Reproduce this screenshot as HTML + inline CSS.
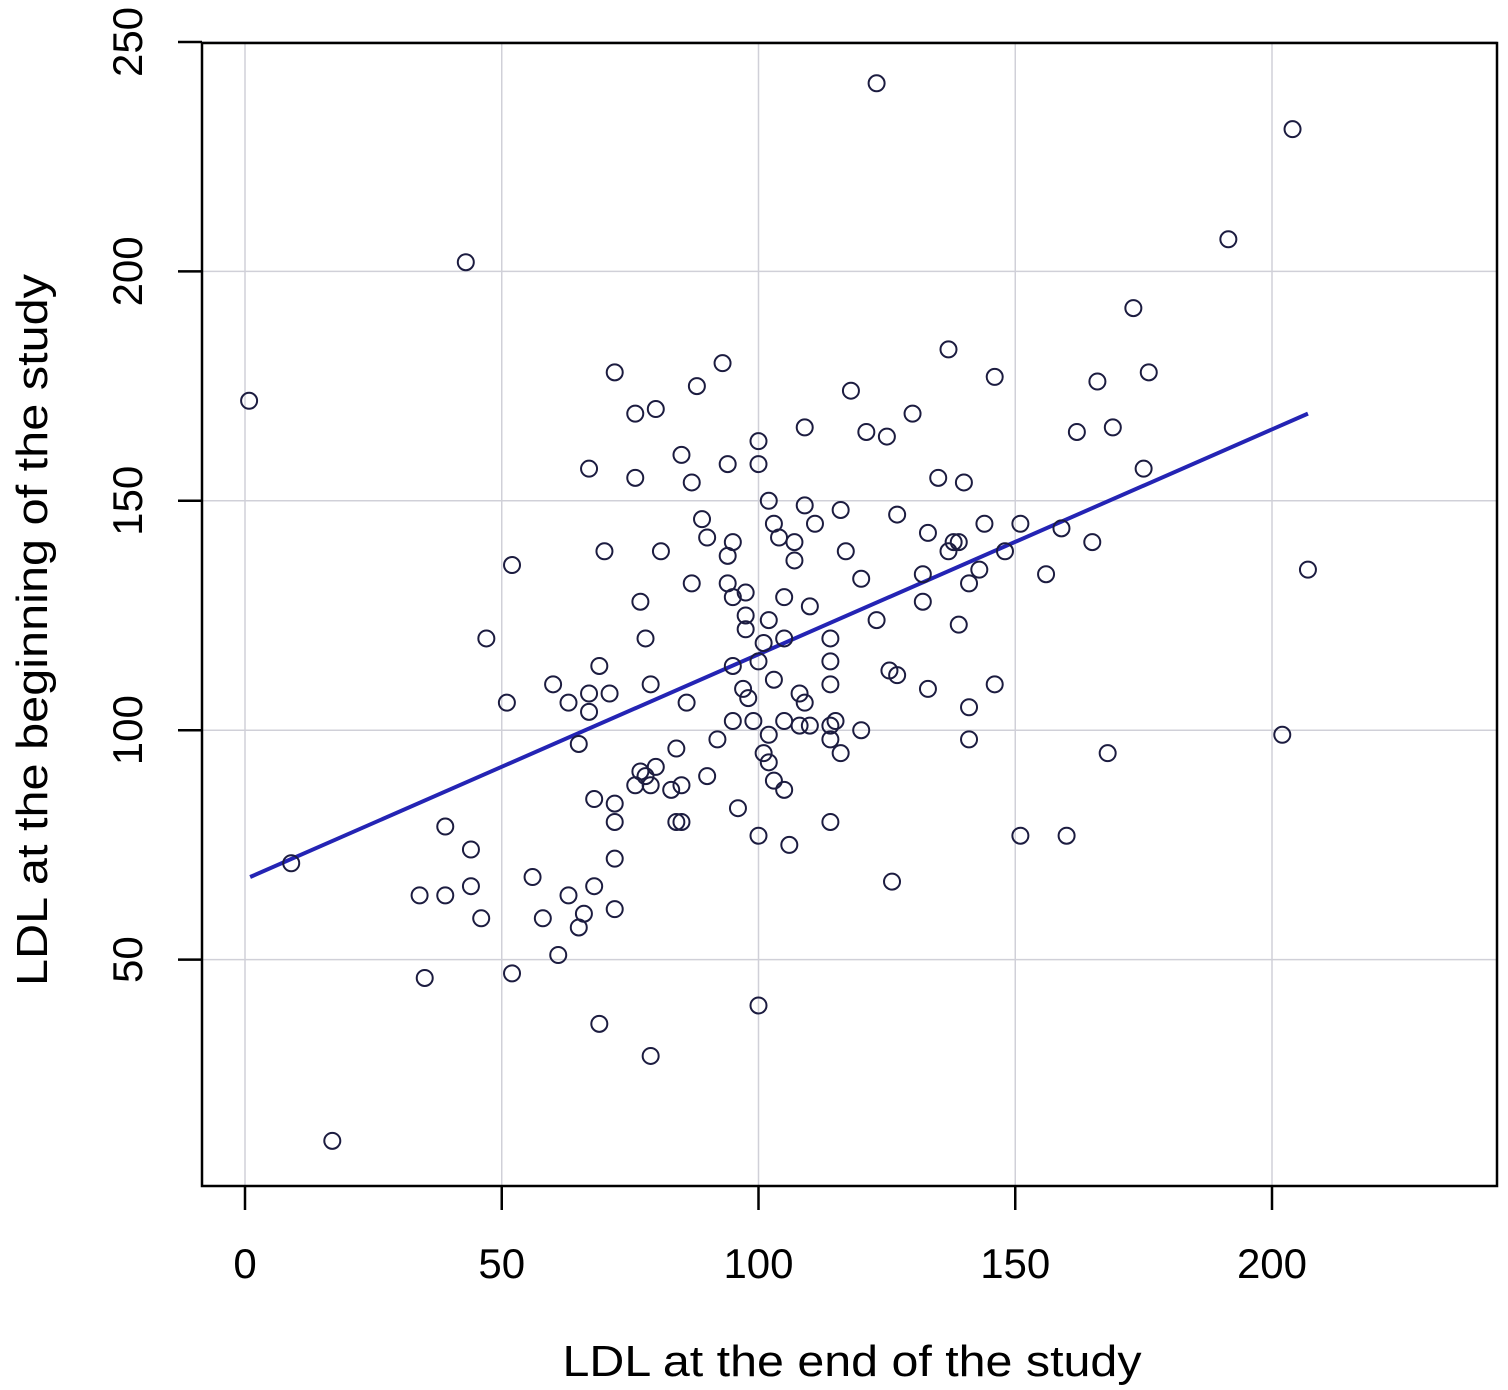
<!DOCTYPE html>
<html><head><meta charset="utf-8"><style>
html,body{margin:0;padding:0;background:#fff;}
svg{display:block;font-family:"Liberation Sans",Arial,sans-serif;}
</style></head><body>
<svg id="chart" width="1508" height="1390" viewBox="0 0 1508 1390" xmlns="http://www.w3.org/2000/svg">
<g id="grid"></g>
<g id="line"></g>
<g id="pts"></g>
<rect x="202" y="43" width="1295" height="1143" fill="none" stroke="#000" stroke-width="2.5"/>
<g id="axes"></g>
<text x="852" y="1376" font-size="44" text-anchor="middle" textLength="579" lengthAdjust="spacingAndGlyphs">LDL at the end of the study</text>
<text transform="translate(47,630) rotate(-90)" font-size="44" text-anchor="middle" textLength="712" lengthAdjust="spacingAndGlyphs">LDL at the beginning of the study</text>
</svg>
<script>
const xTicks=[0,50,100,150,200];
const yTicks=[50,100,150,200,250];
const xVals=[0.8,9,17,34,35,39,39,43,44,44,46,47,51,52,52,56,58,60,61,63,63,65,65,66,67,67,67,68,68,69,69,70,71,72,72,72,72,72,76,76,76,77,77,78,78,79,79,79,80,80,81,83,84,84,85,85,85,86,87,87,88,89,90,90,92,93,94,94,94,95,95,95,95,96,97,97.5,97.5,97.5,98,99,100,100,100,100,100,101,101,102,102,102,102,103,103,103,104,105,105,105,105,106,107,107,108,108,109,109,109,110,110,111,114,114,114,114,114,114,115,116,116,117,118,120,120,121,123,123,125,125.5,127,126,127,130,132,132,133,133,135,137,137,138,139,139,140,141,141,141,143,144,146,146,148,151,151,156,159,160,162,165,166,168,169,173,175,176,191.5,202,204,207];
const yVals=[171.8,71,10.5,64,46,79,64,202,74,66,59,120,106,136,47,68,59,110,51,106,64,57,97,60,157,108,104,85,66,36,114,139,108,178,84,80,72,61,169,155,88,128,91,90,120,110,88,29,170,92,139,87,80,96,160,80,88,106,154,132,175,146,142,90,98,180,158,138,132,129,141,102,114,83,109,130,122,125,107,102,163,158,115,77,40,119,95,150,124,99,93,145,111,89,142,129,120,102,87,75,141,137,108,101,166,149,106,127,101,145,120,115,110,101,98,80,102,148,95,139,174,133,100,165,241,124,164,113,112,67,147,169,134,128,143,109,155,183,139,141,141,123,154,132,105,98,135,145,177,110,139,145,77,134,144,77,165,141,176,95,166,192,157,178,207,99,231,135];
const fitX=[1,207];
const fitY=[68,169];
const NS='http://www.w3.org/2000/svg';
const X=v=>245+v*5.135;
const Y=v=>1189-v*4.588;
function mk(tag,attrs,parent){const e=document.createElementNS(NS,tag);for(const k in attrs)e.setAttribute(k,attrs[k]);parent.appendChild(e);return e;}
const grid=document.getElementById('grid'),axes=document.getElementById('axes'),pts=document.getElementById('pts'),lg=document.getElementById('line');
xTicks.forEach(t=>{
  const g=mk('line',{x1:X(t),x2:X(t),y1:43,y2:1186,stroke:'#d0d0d8','stroke-width':1.5},grid);
  
  
  const tk=mk('line',{x1:X(t),x2:X(t),y1:1186,y2:1210,stroke:'#000','stroke-width':2.5},axes);
  
  
  const tx=mk('text',{x:X(t),y:1278,'font-size':42,'text-anchor':'middle'},axes);
  tx.textContent=t;
  
  
});
yTicks.forEach(t=>{
  const g=mk('line',{x1:202,x2:1497,y1:Y(t),y2:Y(t),stroke:'#d0d0d8','stroke-width':1.5},grid);
  
  
  const tk=mk('line',{x1:178,x2:202,y1:Y(t),y2:Y(t),stroke:'#000','stroke-width':2.5},axes);
  
  
  const tx=mk('text',{transform:`translate(142,${Y(t)}) rotate(-90)`,'font-size':42,'text-anchor':'middle'},axes);
  tx.textContent=t;
  
  
});
const fl=mk('line',{x1:X(fitX[0]),y1:Y(fitY[0]),x2:X(fitX[1]),y2:Y(fitY[1]),stroke:'#2424b4','stroke-width':4},lg);


xVals.forEach((v,i)=>{
  const c=mk('circle',{cx:X(v),cy:Y(yVals[i]),r:8,fill:'none',stroke:'#1c1c40','stroke-width':2},pts);
  
  
});
</script>
</body></html>
